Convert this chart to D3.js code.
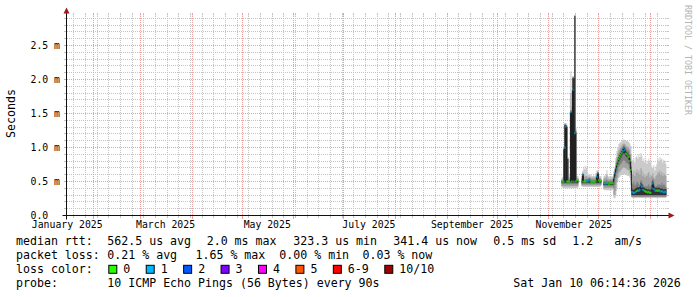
<!DOCTYPE html>
<html>
<head>
<meta charset="utf-8">
<script src="https://cdn.jsdelivr.net/npm/d3@7"></script>
<style>
  html, body { margin: 0; padding: 0; background: #fff; }
  svg { display: block; }
  text { font-family: "DejaVu Sans Mono", monospace; fill: #000; white-space: pre; }
</style>
</head>
<body>
<svg id="chart" width="697" height="297"></svg>
<script>
'use strict';

// graph window: last 360 days, one consolidated row per pixel (14.4 h)
const rangeStart = new Date(Date.UTC(2025, 0, 15, 6, 14, 36));
const rangeEnd = new Date(Date.UTC(2026, 0, 10, 6, 14, 36));
const firstSample = new Date(Date.UTC(2025, 10, 8, 12, 0, 0));
const stepHours = 14.4;

// median rtt in ms, null = no data
const medianMs = [
  .50, .50, .50, 1.00, 1.31, .50, .50, .50, .49, 1.52, .50, 1.85, .50, 1.21, .50, .52, .52,
  null, null, null,
  .50, .60, .50, .50, .50, .51, .50, .52, .52, .50, .49, .50, .50, .49, .51, .57, .62, .52, .50, .51,
  null, null,
  .48, .47, .47, .47, .48, .46, .47, .48, .47, .48,
  .55, .62, .69, .75, .79, .83, .86, .89, .92, .95, .99, .96, .91, .90, .88, .86, .80, .67,
  .35, .34, .33, .34, .35, .36, .37, .36, .38, .44, .42, .38, .37, .36, .35, .35, .34, .35,
  .33, .34, .40, .47, .39, .37, .36, .37, .36, .37, .36, .35, .36, .35, .34, .35, .35
];

// loss colour bucket per row (index into lossColors)
const lossBucket = [
  0, 0, 1, 1, 1, 0, 0, 0, 0, 1, 0, 1, 1, 1, 0, 0, 0,
  null, null, null,
  0, 1, 0, 0, 0, 1, 1, 1, 1, 0, 0, 0, 0, 0, 0, 1, 1, 0, 0, 0,
  null, null,
  0, 1, 1, 1, 0, 0, 0, 0, 0, 0,
  1, 1, 1, 0, 0, 0, 0, 0, 0, 1, 1, 1, 0, 0, 0, 0, 0, 0,
  1, 1, 1, 1, 1, 0, 1, 1, 1, 1, 1, 1, 1, 0, 0, 0, 0, 0,
  0, 0, 1, 1, 1, 1, 1, 0, 0, 0, 1, 1, 1, 1, 1, 1, 1
];

// smoke: ping ranks (ms), outer pair to inner pair
const outerLo = [
  .42, .40, .40, .40, .40, .40, .40, .40, .40, .40, .40, .40, .40, .40, .40, .40, .41,
  null, null, null,
  .43, .42, .42, .42, .42, .42, .42, .42, .42, .42, .42, .42, .42, .42, .42, .42, .42, .42, .42, .43,
  null, null,
  .38, .37, .37, .37, .37, .37, .37, .37, .37, .38,
  .26, .25, .28, .40, .50, .55, .57, .59, .60, .60, .61, .60, .60, .59, .58, .58, .55, .45,
  .27, .26, .26, .26, .26, .26, .26, .26, .26, .26, .26, .26, .26, .26, .26, .26, .26, .26,
  .26, .26, .26, .26, .26, .26, .26, .26, .26, .26, .26, .26, .26, .26, .26, .26, .26
];
const outerHi = [
  .56, .57, .99, 1.36, 1.36, 1.33, .86, .57, .60, 2.12, 1.60, 2.05, 2.05, 2.94, 1.30, .58, .58,
  null, null, null,
  .58, .66, .72, .68, .73, .70, .62, .60, .60, .60, .58, .58, .60, .58, .62, .66, .66, .60, .58, .58,
  null, null,
  .58, .59, .60, .67, .58, .57, .58, .58, .57, .58,
  .65, .72, .85, .95, 1.00, 1.05, 1.07, 1.08, 1.10, 1.11, 1.12, 1.11, 1.10, 1.10, 1.09, 1.08, 1.06, 1.02,
  .80, .82, .84, .78, .86, .88, .84, .90, .86, .92, .88, .80, .84, .78, .82, .76, .80, .84,
  .78, .82, .72, .70, .74, .66, .72, .76, .84, .80, .86, .82, .84, .78, .82, .80, .76
];
const midLo = [
  .43, .43, .43, .43, .43, .43, .43, .43, .43, .43, .43, .43, .43, .43, .43, .43, .43,
  null, null, null,
  .44, .44, .44, .44, .44, .44, .44, .44, .44, .44, .44, .44, .44, .44, .44, .44, .44, .44, .44, .44,
  null, null,
  .40, .40, .40, .40, .40, .40, .40, .40, .40, .40,
  .30, .30, .36, .48, .56, .62, .64, .66, .68, .70, .71, .70, .69, .68, .67, .66, .62, .52,
  .27, .27, .27, .27, .27, .27, .27, .27, .27, .27, .27, .27, .27, .27, .27, .27, .27, .27,
  .27, .27, .27, .27, .27, .27, .27, .27, .27, .27, .27, .27, .27, .27, .27, .27, .27
];
const midHi = [
  .53, .54, .98, 1.35, 1.35, 1.32, .85, .54, .56, 1.80, 1.55, 2.04, 2.04, 2.94, 1.26, .55, .55,
  null, null, null,
  .55, .63, .60, .57, .58, .58, .56, .57, .57, .56, .55, .56, .56, .55, .57, .62, .65, .57, .55, .55,
  null, null,
  .54, .55, .56, .60, .54, .53, .54, .54, .53, .54,
  .60, .68, .78, .86, .92, .96, .99, 1.01, 1.03, 1.05, 1.06, 1.05, 1.03, 1.02, 1.01, 1.00, .97, .90,
  .62, .60, .66, .58, .64, .68, .62, .66, .60, .70, .66, .58, .62, .56, .60, .58, .62, .64,
  .56, .60, .58, .62, .56, .54, .58, .60, .64, .62, .66, .60, .64, .58, .62, .60, .58
];
const innerLo = [
  .46, .46, .46, .46, .46, .46, .46, .46, .46, .46, .46, .46, .46, .46, .46, .46, .46,
  null, null, null,
  .46, .46, .46, .46, .46, .46, .46, .46, .46, .46, .46, .46, .46, .46, .46, .46, .46, .46, .46, .46,
  null, null,
  .43, .43, .43, .43, .43, .43, .43, .43, .43, .43,
  .40, .45, .55, .62, .66, .72, .74, .76, .78, .80, .82, .80, .78, .77, .76, .74, .70, .60,
  .28, .28, .28, .28, .28, .28, .28, .28, .28, .28, .28, .28, .28, .28, .28, .28, .28, .28,
  .28, .28, .28, .28, .28, .28, .28, .28, .28, .28, .28, .28, .28, .28, .28, .28, .28
];
const innerHi = [
  .52, .52, .97, 1.34, 1.34, 1.31, .84, .52, .53, 1.55, 1.53, 2.03, 2.03, 2.94, 1.24, .53, .53,
  null, null, null,
  .53, .62, .53, .53, .54, .54, .53, .55, .55, .53, .52, .53, .53, .52, .54, .60, .64, .55, .53, .53,
  null, null,
  .51, .51, .51, .52, .51, .50, .51, .51, .51, .51,
  .57, .65, .72, .80, .85, .90, .93, .96, .99, 1.01, 1.03, 1.01, .98, .97, .96, .94, .90, .80,
  .48, .46, .50, .44, .46, .50, .48, .46, .44, .52, .50, .46, .44, .42, .44, .42, .44, .46,
  .42, .44, .50, .54, .48, .44, .42, .44, .46, .44, .46, .44, .48, .44, .46, .44, .42
];
const coreLo = [
  .48, .48, .48, .48, .48, .48, .48, .48, .48, .48, .48, .48, .48, .48, .48, .48, .48,
  null, null, null,
  .48, .48, .48, .48, .48, .48, .48, .48, .48, .48, .48, .48, .48, .48, .48, .48, .48, .48, .48, .48,
  null, null,
  .45, .45, .45, .45, .45, .45, .45, .45, .45, .45,
  .50, .58, .65, .71, .75, .79, .82, .85, .88, .90, .92, .90, .87, .86, .85, .82, .77, .64,
  .30, .30, .30, .30, .30, .30, .30, .30, .30, .30, .30, .30, .30, .30, .30, .30, .30, .30,
  .30, .30, .30, .30, .30, .30, .30, .30, .30, .30, .30, .30, .30, .30, .30, .30, .30
];
const coreHi = [
  .51, .51, .97, 1.33, 1.33, 1.30, .83, .51, .51, 1.52, 1.52, 2.02, 2.02, 2.93, 1.22, .52, .52,
  null, null, null,
  .51, .61, .51, .51, .51, .52, .51, .53, .53, .51, .50, .51, .51, .50, .52, .58, .63, .53, .51, .52,
  null, null,
  .49, .48, .48, .48, .49, .47, .48, .49, .48, .49,
  .56, .63, .70, .77, .81, .86, .89, .92, .95, .98, 1.01, .99, .94, .93, .91, .89, .84, .72,
  .40, .38, .38, .39, .40, .41, .42, .41, .42, .48, .46, .42, .41, .40, .39, .39, .38, .39,
  .37, .38, .44, .51, .43, .41, .40, .41, .40, .41, .40, .39, .40, .39, .38, .39, .39
];

const lossLabels = ['0', '1', '2', '3', '4', '5', '6-9', '10/10'];
const lossColors = ['#26ff00', '#00b8ff', '#0059ff', '#7e00ff', '#ff00ff', '#ff5500', '#ff0000', '#a10000'];

const rttLegend = ['562.5 us avg', '2.0 ms max', '323.3 us min', '341.4 us now', '0.5 ms sd', '1.2   am/s'];
const lossLegend = ['0.21 % avg', '1.65 % max', '0.00 % min', '0.03 % now'];
const probeText = '10 ICMP Echo Pings (56 Bytes) every 90s';
const stampText = 'Sat Jan 10 06:14:36 2026';

// ---- layout ----
const svg = d3.select('#chart');
const x = d3.scaleUtc().domain([rangeStart, rangeEnd]).range([66, 666]);
const y = d3.scaleLinear().domain([0, 2.941]).range([215.5, 15.5]);
const snap = v => Math.floor(v) + 0.5;
const x0 = snap(x.range()[0]);
const x1 = snap(x.range()[1]);
const yBase = y.range()[0];
const yTop = y.range()[1];

const GRID = '#c4c4c4';
const MGRID = '#eba0a0';
const AXIS_FONT = '9.8px';
const LEGEND_FONT = '11.6px';
const CHAR_W = 7.02;

const sampleTime = i => new Date(+firstSample + i * stepHours * 3600e3);

// ---- grid (1 on / 1 off dots, started on whole pixels) ----
const grid = svg.append('g');
const majorY = y.ticks(6);
const minorY = y.ticks(30).filter(v => v > 0 && !majorY.some(m => Math.abs(m - v) < 1e-9));

function hLine(v, color) {
  const yy = snap(y(v));
  grid.append('line').attr('x1', x0 + 0.5).attr('x2', x1 - 0.5).attr('y1', yy).attr('y2', yy)
    .attr('stroke', color).attr('stroke-dasharray', '1,1');
  grid.append('line').attr('x1', x0 - 2.5).attr('x2', x0).attr('y1', yy).attr('y2', yy).attr('stroke', color);
  grid.append('line').attr('x1', x1).attr('x2', x1 + 2.5).attr('y1', yy).attr('y2', yy).attr('stroke', color);
}
minorY.forEach(v => hLine(v, GRID));
majorY.filter(v => v > 0).forEach(v => hLine(v, MGRID));

const majorX = d3.utcMonth.range(rangeStart, rangeEnd);
const minorX = d3.utcMonday.range(rangeStart, rangeEnd).filter(d => !majorX.some(m => +m === +d));

function vLine(d, color, below) {
  const xx = snap(x(d));
  grid.append('line').attr('x1', xx).attr('x2', xx).attr('y1', yTop + 0.5).attr('y2', yBase - 0.5)
    .attr('stroke', color).attr('stroke-dasharray', '1,1');
  grid.append('line').attr('x1', xx).attr('x2', xx).attr('y1', yTop - 2.5).attr('y2', yTop).attr('stroke', color);
  grid.append('line').attr('x1', xx).attr('x2', xx).attr('y1', yBase).attr('y2', yBase + below + 0.5).attr('stroke', color);
}
minorX.forEach(d => vLine(d, GRID, 2));
majorX.forEach(d => vLine(d, MGRID, 3));

// ---- smoke ----
const bands = [
  { lo: outerLo, hi: outerHi, color: '#cacaca' },
  { lo: midLo, hi: midHi, color: '#a4a4a4' },
  { lo: innerLo, hi: innerHi, color: '#7e7e7e' },
  { lo: coreLo, hi: coreHi, color: '#323232' }
];

const area = d3.area()
  .defined(d => d !== null)
  .x(d => x(d.t))
  .y0(d => y(d.lo))
  .y1(d => y(d.hi));

bands.forEach(band => {
  const pts = [];
  medianMs.forEach((m, i) => {
    if (m === null) { pts.push(null); return; }
    pts.push({ t: sampleTime(i), lo: band.lo[i], hi: band.hi[i] });
    pts.push({ t: sampleTime(i + 1), lo: band.lo[i], hi: band.hi[i] });
  });
  svg.append('path').attr('d', area(pts)).attr('fill', band.color);
});

// median line, then loss coloured dashes
const medPts = [];
medianMs.forEach((m, i) => {
  if (m === null) { medPts.push(null); return; }
  medPts.push({ t: sampleTime(i), v: m }, { t: sampleTime(i + 1), v: m });
});
svg.append('path')
  .attr('d', d3.line().defined(d => d !== null).x(d => x(d.t)).y(d => y(d.v))(medPts))
  .attr('fill', 'none').attr('stroke', '#202020').attr('stroke-width', 1);

const rows = medianMs.map((m, i) => ({ i, m, loss: lossBucket[i] })).filter(r => r.m !== null);
svg.append('g').selectAll('line').data(rows).join('line')
  .attr('x1', r => x(sampleTime(r.i)))
  .attr('x2', r => x(sampleTime(r.i + 1)))
  .attr('y1', r => y(r.m))
  .attr('y2', r => y(r.m))
  .attr('stroke', r => lossColors[r.loss])
  .attr('stroke-width', 2);

// ---- axes ----
const ARROW = '#9b1c1c';
svg.append('line').attr('x1', x0 - 4).attr('x2', x1 + 3).attr('y1', yBase).attr('y2', yBase).attr('stroke', '#111');
svg.append('line').attr('x1', x0).attr('x2', x0).attr('y1', yBase + 4).attr('y2', yTop - 3).attr('stroke', '#111');
svg.append('path').attr('d', `M${x1 + 2},${yBase - 3}L${x1 + 8},${yBase}L${x1 + 2},${yBase + 3}Z`).attr('fill', ARROW);
svg.append('path').attr('d', `M${x0 - 3},${yTop - 2}L${x0},${yTop - 8}L${x0 + 3},${yTop - 2}Z`).attr('fill', ARROW);

// y labels
svg.append('g').selectAll('text').data(majorY).join('text')
  .attr('x', 30.5)
  .attr('y', v => y(v) + 3.5)
  .style('font-size', AXIS_FONT)
  .text(v => v === 0 ? '0.0' : d3.format('.1f')(v) + ' m');

// x labels: every second month, centred half a month in
const fmtMonth = d3.utcFormat('%B %Y');
const labelMonths = d3.utcMonth.every(2).range(d3.utcYear.floor(rangeStart), rangeEnd)
  .map(m => ({ m, t: d3.utcDay.offset(m, 15) }))
  .filter(d => d.t >= rangeStart && d.t <= rangeEnd);
svg.append('g').selectAll('text').data(labelMonths).join('text')
  .attr('x', d => x(d.t))
  .attr('y', 228)
  .attr('text-anchor', 'middle')
  .style('font-size', AXIS_FONT)
  .text(d => fmtMonth(d.m));

// unit label
svg.append('text')
  .attr('transform', 'translate(14.5,113.5) rotate(-90)')
  .attr('text-anchor', 'middle')
  .style('font-size', LEGEND_FONT)
  .text('Seconds');

// watermark
svg.append('text')
  .attr('transform', 'translate(685,60) rotate(90)')
  .attr('text-anchor', 'middle')
  .style('font-size', '8.3px')
  .style('fill', '#b4b4b4')
  .text('RRDTOOL / TOBI OETIKER');

// ---- legend ----
const legend = svg.append('g').style('font-size', LEGEND_FONT);
const rowY = [245.3, 259.3, 273.3, 287.3];
const valueX = 107.3;

legend.append('text').attr('x', 16).attr('y', rowY[0]).text('median rtt:');
[107.3, 206.7, 293.3, 393.3, 493.3, 572.3].forEach((px, k) =>
  legend.append('text').attr('x', px).attr('y', rowY[0]).text(rttLegend[k]));

legend.append('text').attr('x', 16).attr('y', rowY[1]).text('packet loss:');
[107.3, 195.5, 279.3, 362.5].forEach((px, k) =>
  legend.append('text').attr('x', px).attr('y', rowY[1]).text(lossLegend[k]));

legend.append('text').attr('x', 16).attr('y', rowY[2]).text('loss color:');
let lx = valueX + 1;
lossLabels.forEach((lab, k) => {
  legend.append('rect').attr('x', lx + 0.5).attr('y', rowY[2] - 8).attr('width', 8).attr('height', 8)
    .attr('fill', lossColors[k]).attr('stroke', '#000').attr('stroke-width', 1);
  legend.append('text').attr('x', lx + 15).attr('y', rowY[2]).text(lab);
  lx += 15 + lab.length * CHAR_W + 15.4;
});

legend.append('text').attr('x', 16).attr('y', rowY[3]).text('probe:');
legend.append('text').attr('x', valueX).attr('y', rowY[3]).text(probeText);
legend.append('text').attr('x', 513.3).attr('y', rowY[3]).text(stampText);
</script>
</body>
</html>
